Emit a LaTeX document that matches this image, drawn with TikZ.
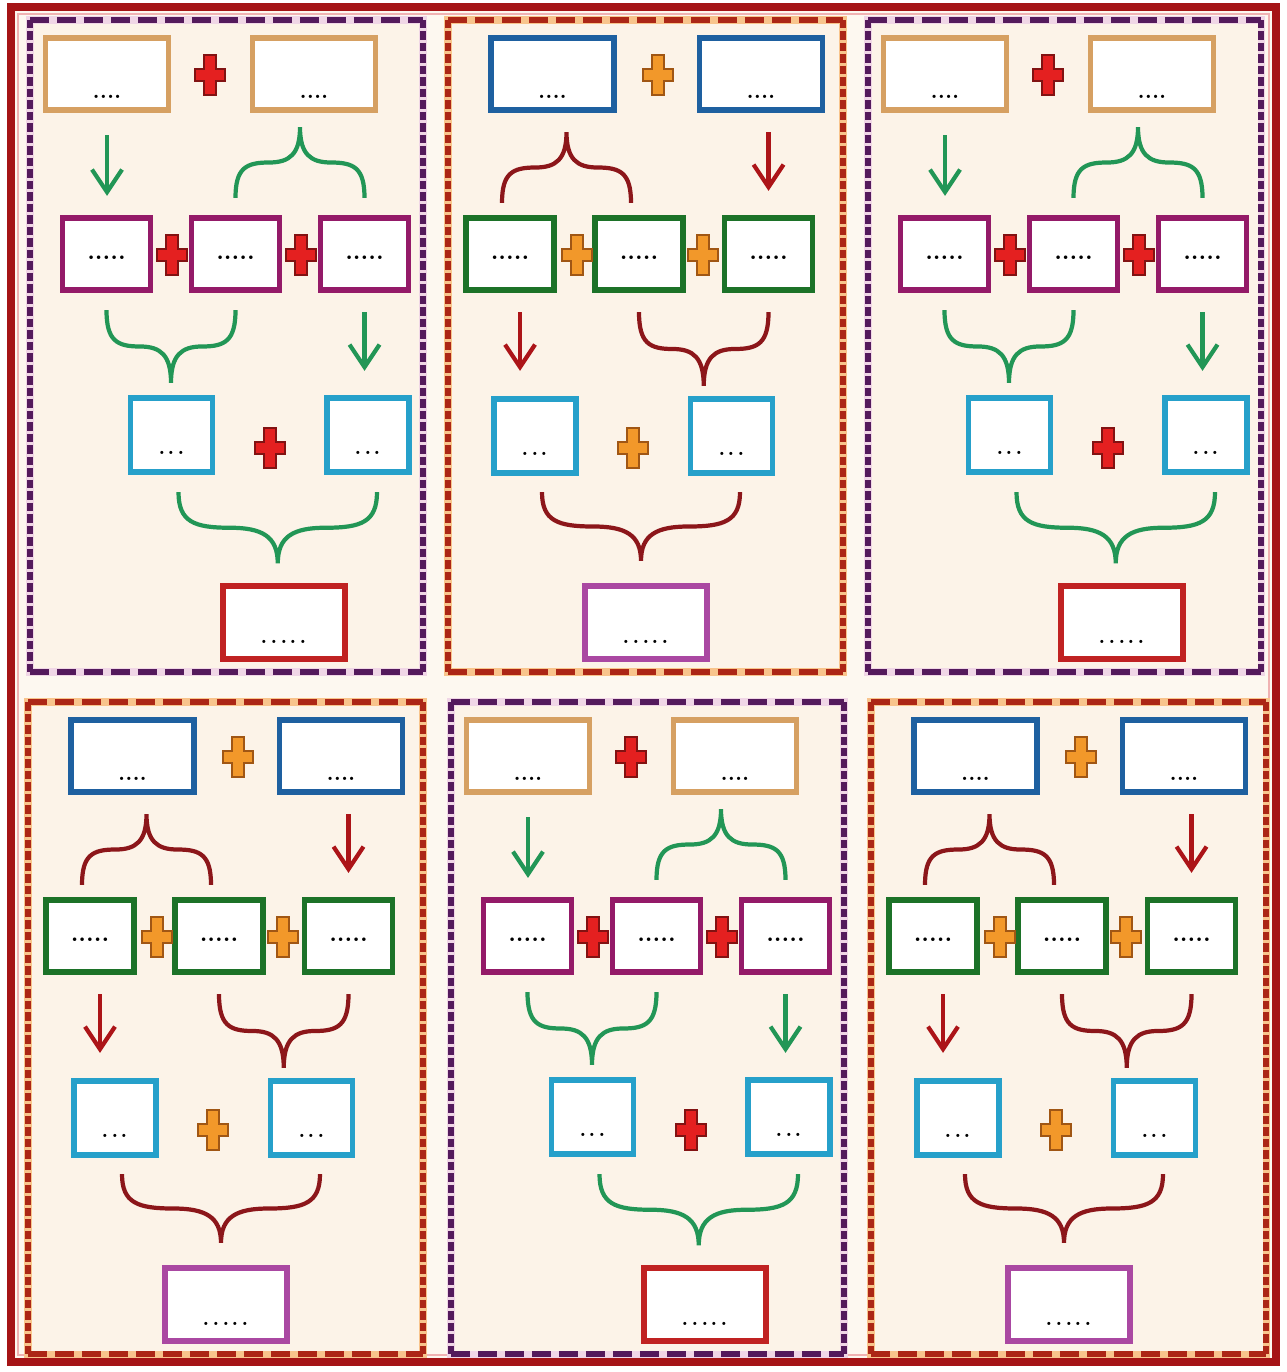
\documentclass[tikz,border=0pt]{standalone}
\usetikzlibrary{arrows.meta,calc}
\definecolor{canvasc}{RGB}{253,248,240}
\definecolor{panelc}{RGB}{252,243,232}
\definecolor{outerc}{RGB}{165,20,22}
\definecolor{outerglow}{RGB}{240,178,178}
\definecolor{pdashc}{RGB}{84,26,92}
\definecolor{pglowc}{RGB}{240,214,230}
\definecolor{odashc}{RGB}{172,38,22}
\definecolor{oglowc}{RGB}{248,196,140}
\definecolor{tanc}{RGB}{214,160,98}
\definecolor{magc}{RGB}{148,26,104}
\definecolor{cyanc}{RGB}{38,160,202}
\definecolor{redboxc}{RGB}{192,34,34}
\definecolor{bluec}{RGB}{30,96,160}
\definecolor{greenboxc}{RGB}{28,114,40}
\definecolor{violetc}{RGB}{170,72,162}
\definecolor{garrowc}{RGB}{34,150,86}
\definecolor{rarrowc}{RGB}{172,20,24}
\definecolor{rbracec}{RGB}{140,22,26}
\definecolor{plusred}{RGB}{228,32,32}
\definecolor{plusredd}{RGB}{130,18,18}
\definecolor{plusor}{RGB}{242,152,42}
\definecolor{plusord}{RGB}{160,86,20}

\newcommand{\dotsat}[2]{\raisebox{#1}[0pt][0pt]{#2}}
\newcommand{\plusshape}[2]{%
  \filldraw[fill=#1, draw=#2, line width=0.6pt, shift={(path picture bounding box.center)}]
    (-0.12cm,0.4cm) -- (0.12cm,0.4cm) -- (0.12cm,0.12cm) -- (0.3cm,0.12cm) -- (0.3cm,-0.12cm)
    -- (0.12cm,-0.12cm) -- (0.12cm,-0.4cm) -- (-0.12cm,-0.4cm) -- (-0.12cm,-0.12cm)
    -- (-0.3cm,-0.12cm) -- (-0.3cm,0.12cm) -- (-0.12cm,0.12cm) -- cycle;}
\newcommand{\mybrace}[4]{%
  \draw[#1] let \p1=(#2), \p2=(#3), \p3=(#4),
      \n1={\x2-\x1}, \n2={\y3-\y1}, \n3={0.5*(\x1+\x2)} in
    (\x1,\y1) .. controls (\x1,{\y1+0.42*\n2}) and ({\x1+0.08*\n1},{\y1+0.5*\n2}) .. ({\x1+0.26*\n1},{\y1+0.5*\n2})
    .. controls ({\x1+0.42*\n1},{\y1+0.5*\n2}) and ({\n3*1pt},{\y1+0.62*\n2}) .. ({\n3*1pt},\y3)
    .. controls ({\n3*1pt},{\y1+0.62*\n2}) and ({\x2-0.42*\n1},{\y1+0.5*\n2}) .. ({\x2-0.26*\n1},{\y1+0.5*\n2})
    .. controls ({\x2-0.08*\n1},{\y1+0.5*\n2}) and (\x2,{\y1+0.42*\n2}) .. (\x2,\y2);}
\newcommand{\dashedframe}[6]{%
  \fill[panelc] (#3,#4) rectangle (#5,#6);
  \draw[#2, line width=4pt] (#3,#4) rectangle (#5,#6);
  \draw[#1, hd] (#3,#4) -- (#5,#4);
  \draw[#1, hd] (#3,#6) -- (#5,#6);
  \draw[#1, vd] (#3,#4) -- (#3,#6);
  \draw[#1, vd] (#5,#4) -- (#5,#6);}

% panel of the first kind (tan / magenta / cyan / red, red plus, green connectors)
\newcommand{\panelP}[3]{%
\begin{scope}[shift={(#2,#3)}]
  \dashedframe{pframe}{pglowc}{30}{20}{423}{672}
  \node[topbox, draw=tanc] (#1A) at (107,74) {\dotsat{-14pt}{....}};
  \node[topbox, draw=tanc] (#1B) at (314,74) {\dotsat{-14pt}{....}};
  \node[midbox, draw=magc] (#1C) at (106.5,254) {\dotsat{-3pt}{.....}};
  \node[midbox, draw=magc] (#1D) at (235.5,254) {\dotsat{-3pt}{.....}};
  \node[midbox, draw=magc] (#1E) at (364.5,254) {\dotsat{-3pt}{.....}};
  \node[cyanbox] (#1F) at (171.5,435) {\dotsat{-11pt}{...}};
  \node[cyanbox] (#1G) at (368,435) {\dotsat{-11pt}{...}};
  \node[botbox, draw=redboxc] (#1H) at (284,622.5) {\dotsat{-12pt}{.....}};
  \node[redplus] (#1p1) at (210,75) {};
  \node[redplus] (#1p2) at (172,255) {};
  \node[redplus] (#1p3) at (301,255) {};
  \node[redplus] (#1p4) at (270,448) {};
  \draw[garrow, shorten <=0.45cm, shorten >=0.39cm] (#1A.south) -- (#1A.south |- #1C.north);
  \draw[garrow, shorten <=0.39cm, shorten >=0.49cm] (#1E.south) -- (#1E.south |- #1G.north);
  \mybrace{gbrace}{[yshift=0.35cm]#1D.north}{[yshift=0.35cm]#1E.north}{[yshift=-0.29cm]#1B.south}
  \mybrace{gbrace}{[yshift=-0.35cm]#1C.south}{[yshift=-0.35cm]#1D.south}{[yshift=0.25cm]#1F.north}
  \mybrace{gbrace}{[xshift=0.14cm,yshift=-0.35cm]#1F.south}{[xshift=0.18cm,yshift=-0.35cm]#1G.south}{[yshift=0.4cm]#1H.north}
\end{scope}}

% panel of the second kind (blue / green / cyan / violet, orange plus, red connectors)
\newcommand{\panelO}[3]{%
\begin{scope}[shift={(#2,#3)}]
  \dashedframe{oframe}{oglowc}{448}{20}{843}{672}
  \node[topbox, draw=bluec] (#1A) at (552.5,74) {\dotsat{-14pt}{....}};
  \node[topbox, draw=bluec] (#1B) at (761,74) {\dotsat{-14pt}{....}};
  \node[midbox, draw=greenboxc] (#1C) at (510,254) {\dotsat{-3pt}{.....}};
  \node[midbox, draw=greenboxc] (#1D) at (639,254) {\dotsat{-3pt}{.....}};
  \node[midbox, draw=greenboxc] (#1E) at (768.5,254) {\dotsat{-3pt}{.....}};
  \node[cyanbox] (#1F) at (535,436) {\dotsat{-11pt}{...}};
  \node[cyanbox] (#1G) at (731.5,436) {\dotsat{-11pt}{...}};
  \node[botbox, draw=violetc] (#1H) at (646,622.5) {\dotsat{-12pt}{.....}};
  \node[orangeplus] (#1p1) at (658,75) {};
  \node[orangeplus] (#1p2) at (577,255) {};
  \node[orangeplus] (#1p3) at (703,255) {};
  \node[orangeplus] (#1p4) at (633,448) {};
  \coordinate (#1ca) at ([xshift=0.2cm]#1C.south);
  \draw[rarrow, shorten <=0.39cm, shorten >=0.49cm] (#1E.north |- #1B.south) -- (#1E.north);
  \draw[rarrow, shorten <=0.39cm, shorten >=0.51cm] (#1ca) -- (#1ca |- #1F.north);
  \mybrace{rbrace}{[xshift=-0.16cm,yshift=0.25cm]#1C.north}{[xshift=-0.16cm,yshift=0.25cm]#1D.north}{[yshift=-0.39cm]#1A.south}
  \mybrace{rbrace}{[yshift=-0.39cm]#1D.south}{[yshift=-0.39cm]#1E.south}{[yshift=0.21cm]#1F.north}
  \mybrace{rbrace}{[xshift=0.14cm,yshift=-0.33cm]#1F.south}{[xshift=0.17cm,yshift=-0.33cm]#1G.south}{[yshift=0.45cm]#1H.north}
\end{scope}}

\begin{document}
\begin{tikzpicture}[x=0.02cm, y=-0.02cm,
  box/.style={draw, fill=white, line width=3pt, inner sep=0pt},
  topbox/.style={box, minimum width=2.46cm, minimum height=1.44cm, font=\fontsize{13}{13}\selectfont\bfseries},
  midbox/.style={box, minimum width=1.76cm, minimum height=1.44cm, font=\fontsize{14}{14}\selectfont\bfseries},
  cyanbox/.style={box, draw=cyanc, minimum width=1.64cm, minimum height=1.48cm, font=\fontsize{22}{22}\selectfont},
  botbox/.style={box, minimum width=2.44cm, minimum height=1.46cm, font=\fontsize{22}{22}\selectfont},
  redplus/.style={inner sep=0pt, minimum width=0.8cm, minimum height=1cm, path picture={\plusshape{plusred}{plusredd}}},
  orangeplus/.style={inner sep=0pt, minimum width=0.8cm, minimum height=1cm, path picture={\plusshape{plusor}{plusord}}},
  garrow/.style={draw=garrowc, line width=2.4pt, -{Straight Barb[length=0.45cm,width=0.6cm]}},
  rarrow/.style={draw=rarrowc, line width=2.4pt, -{Straight Barb[length=0.45cm,width=0.6cm]}},
  gbrace/.style={draw=garrowc, line width=2.4pt},
  rbrace/.style={draw=rbracec, line width=2.4pt},
  pframe/.style={draw=pdashc, line width=3.1pt},
  oframe/.style={draw=odashc, line width=3.1pt},
  hd/.style={dash pattern=on 0.38cm off 0.16cm},
  vd/.style={dash pattern=on 0.17cm off 0.06cm}]
\useasboundingbox (0,0) rectangle (1286,1372);
\fill[white] (0,0) rectangle (1286,1372);
\fill[canvasc] (11,7) rectangle (1276,1362);
\draw[outerglow, line width=0.8pt] (18,14) rectangle (1269,1355);
\draw[outerc, line width=4.5pt] (11,7) rectangle (1276,1362);

\panelP{pa}{0}{0}
\panelO{pb}{0}{0}
\panelP{pc}{838}{0}
\panelO{pd}{-420}{682}
\panelP{pe}{421}{682}
\panelO{pf}{423}{682}
\end{tikzpicture}
\end{document}
